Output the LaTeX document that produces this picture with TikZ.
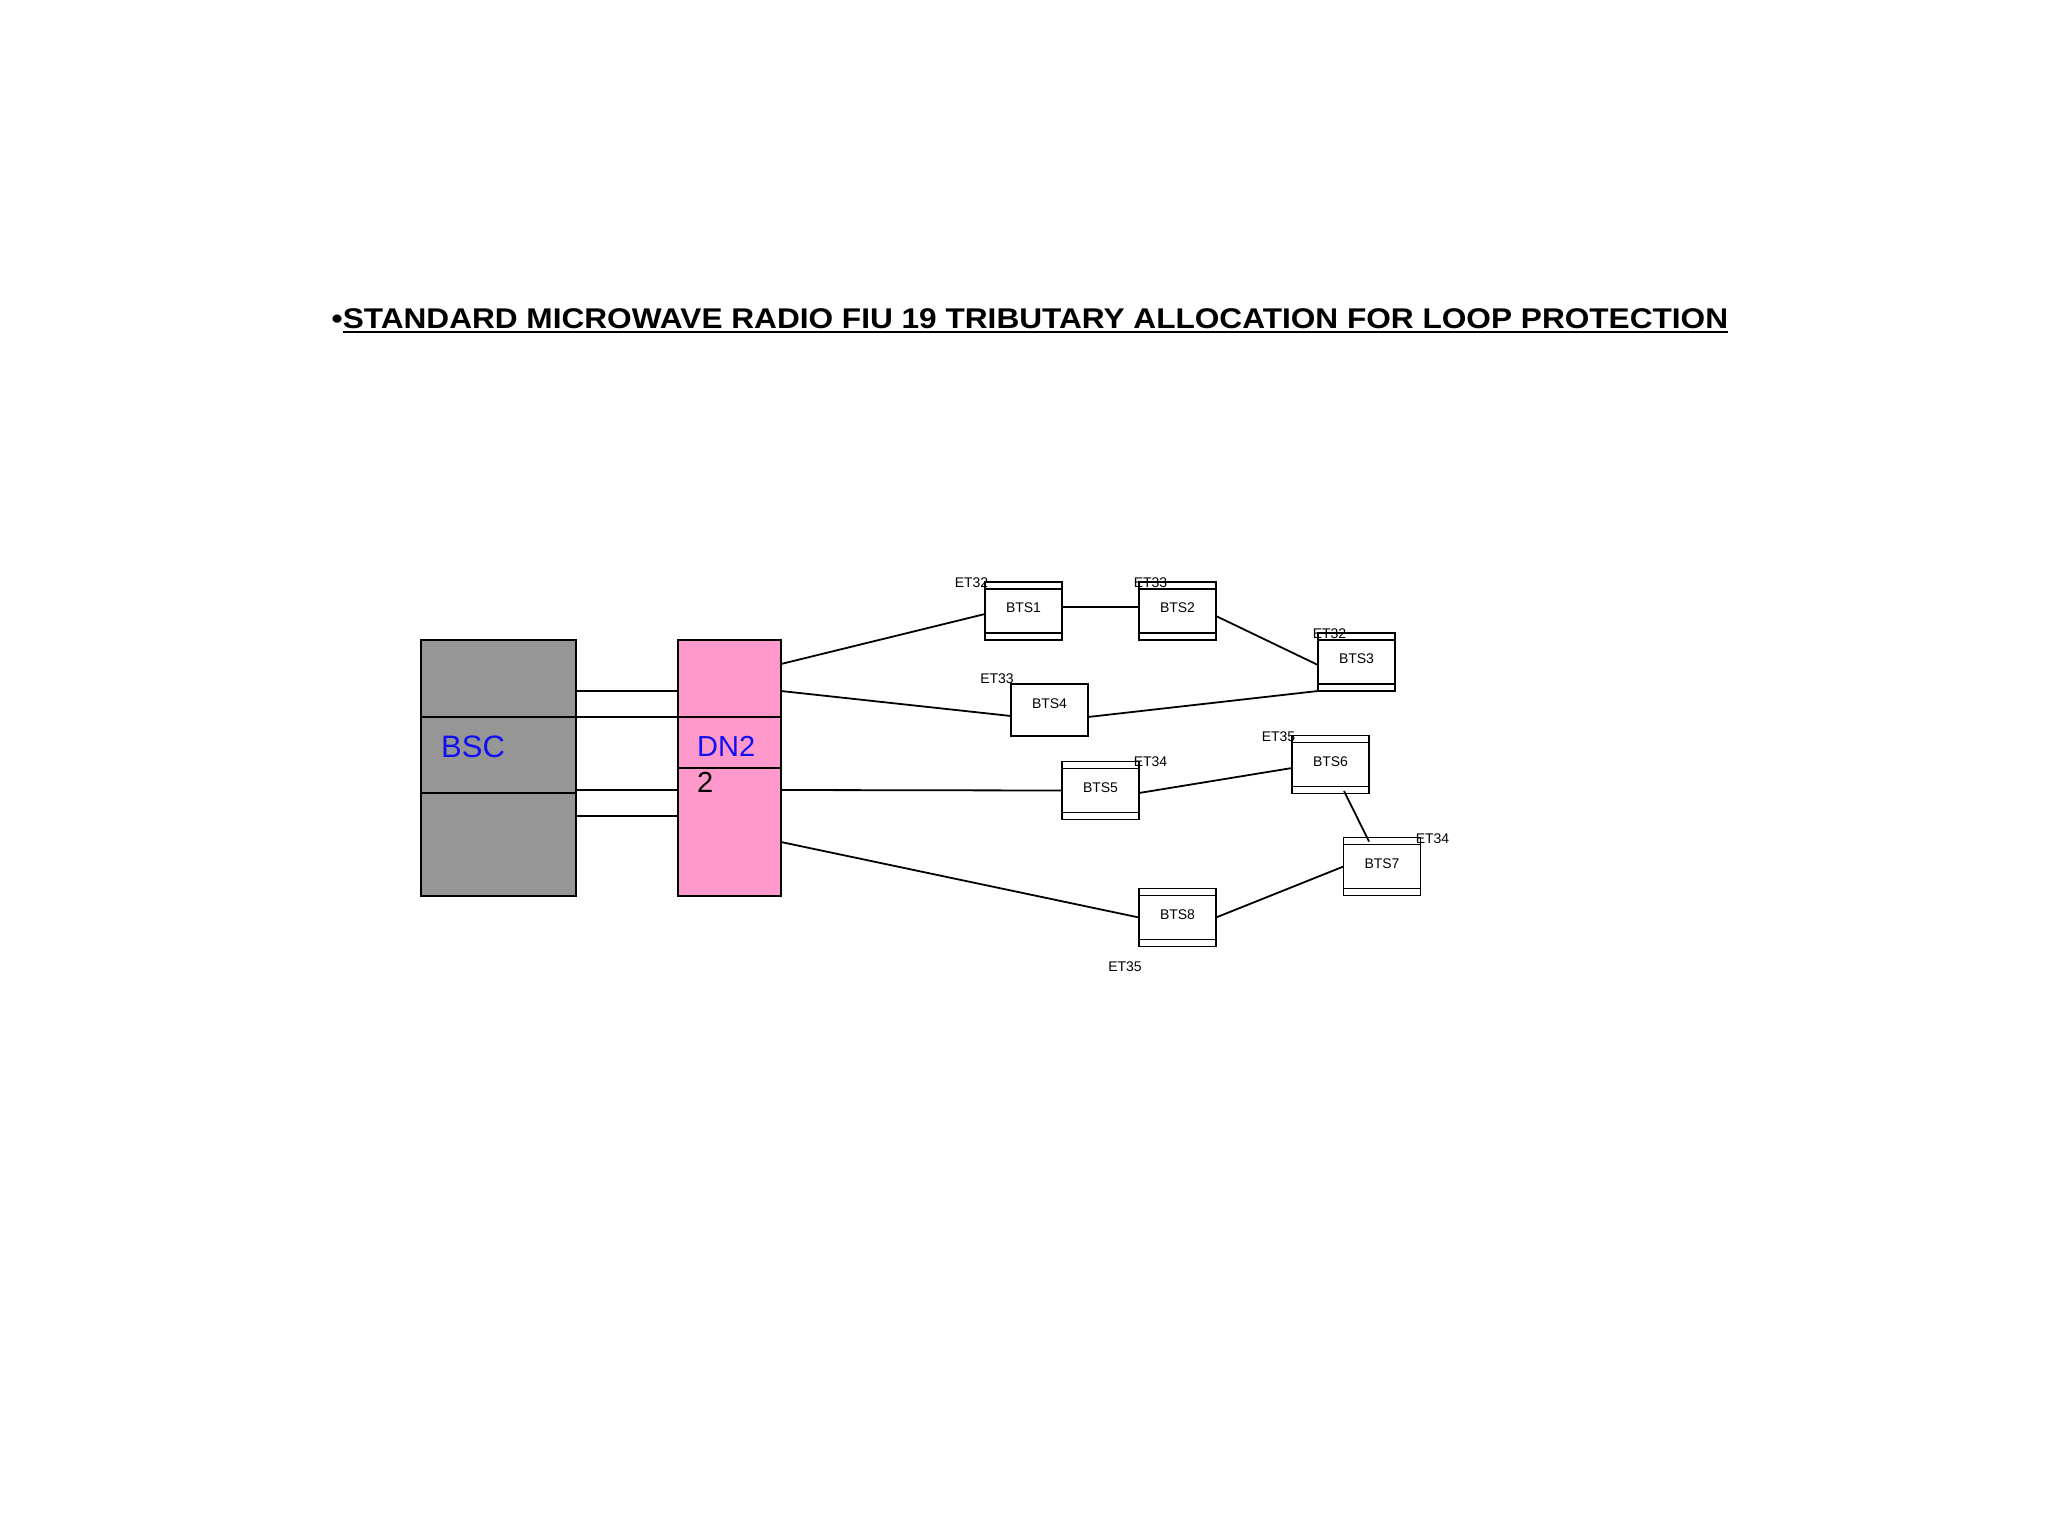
\documentclass[tikz,border=0pt]{standalone}
\usepackage{fontspec}
\setmainfont{Liberation Sans}
\usepackage{graphicx}
\definecolor{bscgray}{HTML}{969696}
\definecolor{dnpink}{HTML}{FF99CC}
\definecolor{txtblue}{HTML}{1010F0}
\tikzset{
  lnk/.style={line width=1.8pt},
  btsbox/.style={draw, line width=1.8pt, minimum width=77pt, minimum height=58pt,
    inner sep=0pt, outer sep=0pt, font=\fontsize{14}{16}\selectfont, text depth=6pt},
  btsstriped/.style={btsbox, path picture={
    \draw[line width=1.8pt]
      ([yshift=-7pt]path picture bounding box.north west) -- ([yshift=-7pt]path picture bounding box.north east)
      ([yshift=7pt]path picture bounding box.south west) -- ([yshift=7pt]path picture bounding box.south east);}},
  etlab/.style={inner sep=0pt, font=\fontsize{14}{16}\selectfont},
  bigbox/.style={draw, line width=1.8pt, minimum height=256pt, inner sep=0pt, outer sep=0pt},
}
\begin{document}
\begin{tikzpicture}[x=1pt,y=-1pt]
\fill[white] (0,0) rectangle (2048,1536);
\useasboundingbox (0,0) rectangle (2048,1536);

% title
\node[anchor=base west, inner sep=0pt, font=\fontsize{28.5}{32}\selectfont\bfseries] (title) at (331.5,328)
  {\scalebox{1.109}[1]{•\vtop{\hbox{STANDARD MICROWAVE RADIO FIU 19 TRIBUTARY ALLOCATION FOR LOOP PROTECTION}\kern2.5pt\hrule height 2pt}}};

% BSC and DN2
\node[bigbox, fill=bscgray, minimum width=155pt] (bsc) at (498.5,768) {};
\node[bigbox, fill=dnpink, minimum width=103pt] (dn2) at (729.5,768) {};
\draw[lnk] ([yshift=-77pt]bsc.north west) -- ([yshift=-77pt]bsc.north east);
\draw[lnk] ([yshift=-153pt]bsc.north west) -- ([yshift=-153pt]bsc.north east);
\draw[lnk] ([yshift=-77pt]dn2.north west) -- ([yshift=-77pt]dn2.north east);
\draw[lnk] ([yshift=-128pt]dn2.north west) -- ([yshift=-128pt]dn2.north east);
\node[anchor=west, inner sep=0pt, text=txtblue, font=\fontsize{31}{36}\selectfont] (bsclabel) at (441,747) {BSC};
\node[anchor=west, inner sep=0pt, text=txtblue, font=\fontsize{29}{34}\selectfont] (dn2label) at (697,746) {DN2};
\node[anchor=west, inner sep=0pt, font=\fontsize{29}{34}\selectfont] (dn2num) at (697,782) {2};

% BSC - DN2 links
\draw[lnk] ([yshift=-51pt]bsc.north east) -- ([yshift=-51pt]dn2.north west);
\draw[lnk] ([yshift=-77pt]bsc.north east) -- ([yshift=-77pt]dn2.north west);
\draw[lnk] ([yshift=-150pt]bsc.north east) -- ([yshift=-150pt]dn2.north west);
\draw[lnk] ([yshift=-176pt]bsc.north east) -- ([yshift=-176pt]dn2.north west);

% BTS nodes
\node[btsstriped] (bts1) at (1023.5,611) {BTS1};
\node[btsstriped] (bts2) at (1177.5,611) {BTS2};
\node[btsstriped] (bts3) at (1356.5,662) {BTS3};
\node[btsbox, minimum height=52pt, text depth=12pt] (bts4) at (1049.5,710) {BTS4};
\node[btsstriped] (bts5) at (1100.5,790.5) {BTS5};
\node[btsstriped] (bts6) at (1330.5,764.5) {BTS6};
\node[btsstriped] (bts7) at (1382,866.5) {BTS7};
\node[btsstriped] (bts8) at (1177.5,917.5) {BTS8};

% ET labels
\node[etlab] (et1) at (971.5,583) {ET32};
\node[etlab] (et2) at (1150.5,583) {ET33};
\node[etlab] (et3) at (1329.5,634) {ET32};
\node[etlab] (et4) at (997,679) {ET33};
\node[etlab] (et5) at (1150.5,762) {ET34};
\node[etlab] (et6) at (1278.5,737) {ET35};
\node[etlab] (et7) at (1432.5,839) {ET34};
\node[etlab] (et8) at (1125,967) {ET35};

% links
\draw[lnk] ([yshift=-24pt]dn2.north east) -- ([yshift=-3pt]bts1.west);
\draw[lnk] ([yshift=-51pt]dn2.north east) -- ([yshift=-6pt]bts4.west);
\draw[lnk] ([yshift=-150pt]dn2.north east) -- (bts5.west);
\draw[lnk] ([yshift=-202pt]dn2.north east) -- (bts8.west);
\draw[lnk] ([yshift=4pt]bts1.east) -- ([yshift=4pt]bts2.west);
\draw[lnk] ([yshift=-5pt]bts2.east) -- ([yshift=-3pt]bts3.west);
\draw[lnk] ([yshift=-7pt]bts4.east) -- (bts3.south west);
\draw[lnk] ([yshift=-2.5pt]bts5.east) -- ([yshift=-3.5pt]bts6.west);
\draw[lnk] ([shift={(13.5pt,2.5pt)}]bts6.south) -- ([shift={(-13pt,-4pt)}]bts7.north);
\draw[lnk] (bts8.east) -- (bts7.west);
\end{tikzpicture}
\end{document}
